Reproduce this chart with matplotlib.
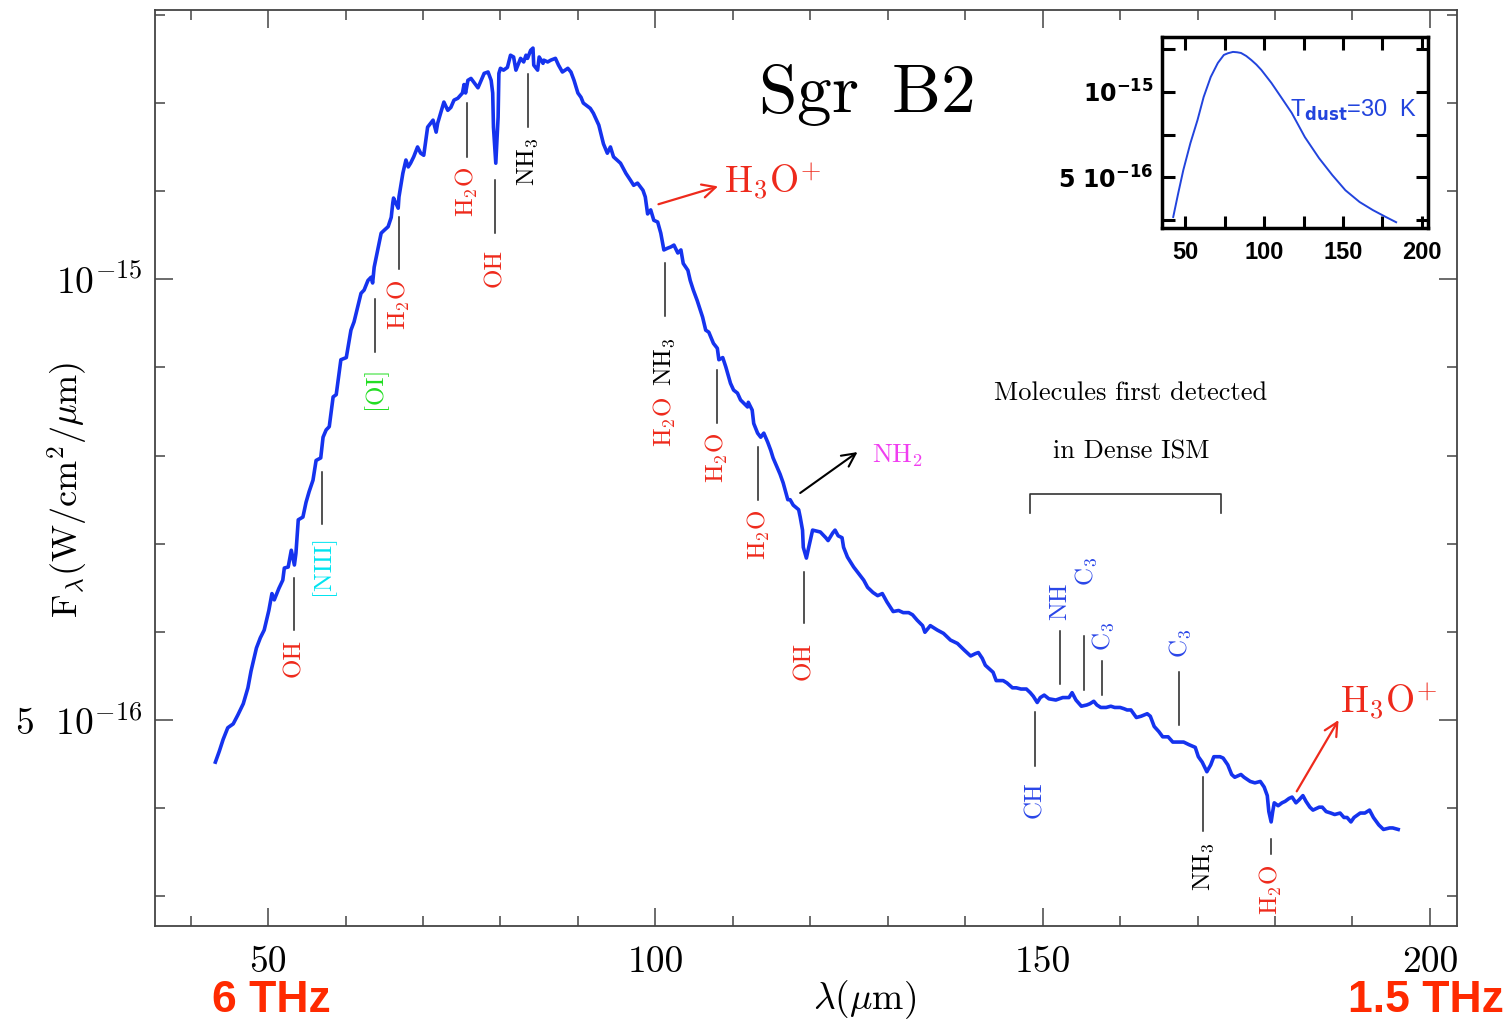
import numpy as np
import matplotlib
matplotlib.use('Agg')
import matplotlib.pyplot as plt
from matplotlib.ticker import FixedLocator, FixedFormatter, NullFormatter

plt.rcParams['font.family'] = 'cmr10'
plt.rcParams['mathtext.fontset'] = 'cm'
plt.rcParams['axes.unicode_minus'] = False

# Sgr B2 far-IR spectrum, wavelength (um) and flux (1e-16 W/cm2/um)
wave = [43.2, 43.7, 44.2, 44.8, 45.5, 46.1, 46.8, 47.4, 47.8, 48.5,
        49.0, 49.5, 50.1, 50.5, 50.8, 51.4, 51.9, 52.1, 52.6, 53.0,
        53.4, 53.6, 53.9, 54.5, 54.9, 55.3, 55.8, 56.2, 56.8, 57.1,
        57.5, 57.9, 58.4, 58.8, 59.4, 60.1, 60.7, 61.1, 62.0, 62.4,
        62.9, 63.3, 63.5, 63.7, 64.6, 65.0, 65.5, 65.9, 66.1, 66.2,
        66.8, 66.9, 67.4, 67.8, 68.1, 68.4, 68.8, 69.3, 69.7, 70.1,
        70.6, 71.3, 71.7, 71.9, 72.7, 73.2, 73.6, 74.0, 74.5, 75.1,
        75.3, 75.5, 75.8, 76.2, 76.6, 77.1, 77.9, 78.4, 78.8, 79.0,
        79.1, 79.4, 79.7, 79.8, 80.0, 80.4, 80.9, 81.3, 81.7, 82.0,
        82.6, 83.0, 83.3, 83.5, 83.9, 84.2, 84.3, 84.8, 85.0, 85.5,
        85.6, 86.1, 86.5, 87.1, 87.5, 88.0, 88.7, 89.1, 89.5, 90.0,
        90.4, 90.7, 91.6, 92.0, 92.7, 93.3, 93.8, 94.2, 94.6, 95.5,
        96.2, 96.8, 97.2, 97.7, 98.4, 98.7, 99.0, 99.4, 99.8, 100.3,
        100.7, 101.1, 101.6, 102.0, 102.4, 102.9, 103.3, 103.6, 104.2, 104.5,
        104.9, 105.4, 106.1, 106.5, 106.9, 107.5, 108.0, 108.2, 108.7, 109.1,
        109.7, 110.1, 110.6, 111.0, 111.4, 111.9, 112.0, 112.5, 112.7, 113.2,
        113.6, 114.0, 114.5, 114.9, 115.2, 116.1, 116.5, 117.1, 117.4, 117.8,
        118.5, 118.7, 119.0, 119.1, 119.5, 119.8, 120.3, 121.3, 122.0, 122.3,
        122.9, 123.2, 123.6, 124.1, 124.3, 124.8, 125.6, 126.2, 126.9, 127.4,
        128.1, 128.7, 129.3, 129.9, 130.7, 131.4, 132.0, 132.7, 133.2, 133.8,
        134.5, 134.8, 135.5, 136.4, 137.2, 138.1, 139.0, 139.9, 140.7, 141.3,
        141.7, 142.2, 142.6, 143.6, 144.0, 144.9, 145.4, 146.1, 146.6, 147.2,
        147.9, 148.4, 148.8, 149.3, 149.7, 150.2, 150.8, 151.7, 152.6, 153.4,
        153.8, 154.3, 155.0, 155.7, 156.1, 156.6, 157.0, 157.5, 158.2, 158.8,
        159.3, 160.0, 160.5, 160.9, 161.4, 162.1, 162.7, 163.5, 163.9, 164.4,
        165.0, 165.5, 166.2, 166.8, 167.6, 168.2, 168.9, 169.7, 170.1, 170.6,
        171.2, 171.7, 172.1, 172.9, 173.3, 173.9, 174.4, 174.8, 175.6, 176.0,
        176.8, 177.4, 178.1, 178.6, 179.0, 179.2, 179.5, 179.7, 179.9, 180.4,
        180.9, 181.3, 181.8, 182.2, 182.7, 183.1, 183.6, 184.0, 184.5, 184.9,
        185.7, 186.1, 186.6, 187.2, 187.7, 188.4, 188.9, 189.3, 189.8, 190.2,
        191.0, 191.6, 192.2, 192.7, 193.4, 194.0, 194.8, 195.2, 195.9]
flux = [4.68, 4.76, 4.85, 4.94, 4.97, 5.04, 5.13, 5.26, 5.40, 5.60,
        5.69, 5.76, 5.94, 6.10, 6.04, 6.15, 6.23, 6.35, 6.36, 6.53,
        6.38, 6.50, 6.85, 6.88, 7.04, 7.16, 7.29, 7.52, 7.55, 7.80,
        7.89, 7.93, 8.31, 8.34, 8.81, 8.84, 9.23, 9.35, 9.78, 9.83,
        9.98, 10.03, 9.94, 10.19, 10.75, 10.80, 10.86, 11.02, 11.27, 11.36,
        11.18, 11.38, 11.81, 12.06, 11.93, 12.00, 12.12, 12.31, 12.19, 12.15,
        12.70, 12.84, 12.60, 12.78, 13.21, 13.04, 13.10, 13.25, 13.29, 13.40,
        13.58, 13.40, 13.67, 13.71, 13.62, 13.51, 13.82, 13.85, 13.67, 13.40,
        12.70, 12.00, 12.90, 13.82, 13.93, 13.89, 13.95, 14.22, 14.18, 13.89,
        14.15, 14.07, 14.22, 14.15, 14.33, 14.38, 14.00, 13.89, 14.18, 14.04,
        14.11, 14.07, 14.11, 14.15, 14.00, 13.85, 13.93, 13.85, 13.67, 13.40,
        13.31, 13.19, 13.08, 12.98, 12.74, 12.37, 12.19, 12.31, 12.12, 12.00,
        11.81, 11.68, 11.59, 11.63, 11.50, 11.38, 11.08, 11.15, 10.97, 10.94,
        10.75, 10.47, 10.50, 10.52, 10.55, 10.42, 10.47, 10.25, 10.14, 9.98,
        9.83, 9.67, 9.42, 9.23, 9.20, 9.04, 8.97, 8.81, 8.84, 8.71,
        8.49, 8.40, 8.36, 8.27, 8.23, 8.18, 8.24, 8.14, 7.97, 7.85,
        7.80, 7.85, 7.74, 7.64, 7.55, 7.36, 7.26, 7.07, 7.07, 7.01,
        6.96, 6.88, 6.74, 6.56, 6.45, 6.56, 6.74, 6.72, 6.66, 6.63,
        6.71, 6.74, 6.68, 6.66, 6.56, 6.46, 6.36, 6.30, 6.23, 6.16,
        6.11, 6.08, 6.10, 6.02, 5.93, 5.94, 5.92, 5.92, 5.90, 5.85,
        5.80, 5.74, 5.80, 5.76, 5.73, 5.67, 5.64, 5.58, 5.53, 5.55,
        5.56, 5.51, 5.45, 5.39, 5.32, 5.32, 5.30, 5.26, 5.26, 5.25,
        5.25, 5.22, 5.19, 5.14, 5.18, 5.20, 5.17, 5.16, 5.18, 5.18,
        5.22, 5.16, 5.11, 5.12, 5.13, 5.15, 5.12, 5.10, 5.10, 5.11,
        5.10, 5.10, 5.09, 5.08, 5.08, 5.02, 5.03, 5.05, 5.03, 4.95,
        4.91, 4.87, 4.87, 4.83, 4.83, 4.83, 4.81, 4.79, 4.72, 4.68,
        4.61, 4.66, 4.72, 4.72, 4.71, 4.66, 4.59, 4.57, 4.59, 4.57,
        4.54, 4.53, 4.54, 4.50, 4.44, 4.33, 4.26, 4.33, 4.39, 4.37,
        4.39, 4.40, 4.42, 4.43, 4.39, 4.41, 4.44, 4.40, 4.36, 4.34,
        4.36, 4.36, 4.33, 4.32, 4.31, 4.32, 4.29, 4.29, 4.26, 4.29,
        4.32, 4.32, 4.34, 4.29, 4.24, 4.21, 4.22, 4.22, 4.21]

# inset: dust emission, T_dust = 30 K
bb_wave = [42.3, 45.5, 48.7, 53.2, 57.7, 61.6, 66.1, 70.6, 74.4, 77.0, 80.2, 82.8, 85.3,
           88.6, 91.8, 95.0, 98.2, 104.6, 111.1, 117.5, 125.8, 134.8, 143.2, 151.5,
           160.5, 168.9, 177.2, 183.7]
bb_flux = [3.62, 4.40, 5.30, 6.60, 7.96, 9.60, 11.30, 12.66, 13.51, 13.70, 13.85, 13.81, 13.73,
           13.40, 12.97, 12.50, 11.96, 10.76, 9.52, 8.43, 6.93, 5.84, 5.09, 4.50,
           4.09, 3.83, 3.62, 3.47]

RED = '#ee2a1c'
BLACK = 'black'
CYAN = '#00e4f0'
GREEN = '#22dd22'
BLUE = '#2a46e8'
MAGENTA = '#f03ef0'

# line markers: wavelength, top and bottom of the tick (1e-16 units)
mark_wave = [53.35, 57.0, 63.8, 66.9, 75.7, 79.3, 83.5, 101.2, 108.0, 113.3, 119.2,
             149.0, 152.3, 155.4, 157.7, 167.6, 170.7, 179.5]
mark_top = [6.25, 7.39, 9.69, 11.02, 13.19, 11.68, 13.80, 10.25, 8.67, 7.68, 6.31,
            5.06, 5.75, 5.71, 5.49, 5.39, 4.57, 4.15]
mark_bot = [5.76, 6.80, 8.92, 10.16, 12.12, 10.75, 12.70, 9.44, 7.97, 7.07, 5.82,
            4.65, 5.29, 5.24, 5.20, 4.96, 4.20, 4.05]

# species labels
H2O = r'$\mathrm{H_2O}$'
NH3 = r'$\mathrm{NH_3}$'
C3 = r'$\mathrm{C_3}$'
id_text = ['OH', '[NIII]', '[OI]', H2O, H2O, 'OH', NH3, NH3, H2O, H2O, H2O, 'OH',
           'CH', 'NH', C3, C3, C3, NH3, H2O]
id_wave = [53.35, 57.0, 63.8, 66.9, 75.7, 79.3, 83.5, 101.2, 101.2, 108.0, 113.3, 119.2,
           149.0, 152.3, 155.6, 157.8, 167.8, 170.8, 179.5]
id_flux = [5.51, 6.38, 8.43, 9.60, 11.47, 10.17, 12.02, 8.78, 7.99, 7.55, 6.69, 5.49,
           4.41, 6.03, 6.32, 5.70, 5.64, 3.97, 3.83]
id_color = [RED, CYAN, GREEN, RED, RED, RED, BLACK, BLACK, RED, RED, RED, RED,
            BLUE, BLUE, BLUE, BLUE, BLUE, BLACK, RED]

H3OP = r'$\mathrm{H_3O}^{\!+}$'

fig = plt.figure(figsize=(15.06, 10.23), dpi=100)
ax = fig.add_axes([0.1029, 0.0948, 0.8646, 0.8954])

ax.plot(wave, np.array(flux) * 1e-16, color='#1533ee', lw=2.6, solid_joinstyle='round')
ax.set_yscale('log')
ax.set_xlim(35.4, 203.5)
ax.set_ylim(3.617e-16, 1.5267e-15)

ax.xaxis.set_major_locator(FixedLocator([50, 100, 150, 200]))
ax.xaxis.set_minor_locator(FixedLocator(np.arange(40, 201, 10)))
ax.xaxis.set_major_formatter(FixedFormatter(['50', '100', '150', '200']))
ax.yaxis.set_major_locator(FixedLocator([5e-16, 1e-15]))
ax.yaxis.set_major_formatter(FixedFormatter([r'$5\ \ 10^{-16}$', r'$10^{-15}$']))
ax.yaxis.set_minor_locator(FixedLocator([1e-15 * 2 ** (k / 5) for k in range(-7, 4)]))
ax.yaxis.set_minor_formatter(NullFormatter())
ax.tick_params(which='both', direction='in', top=True, right=True, width=1.1, color='#444444')
ax.tick_params(which='major', length=13)
ax.tick_params(which='minor', length=7)
ax.tick_params(axis='x', labelsize=27, pad=14)
ax.tick_params(axis='y', labelsize=27, pad=9)
for s in ax.spines.values():
    s.set_linewidth(1.3)
    s.set_color('#444444')

for x, hi, lo in zip(mark_wave, mark_top, mark_bot):
    ax.plot([x, x], [lo * 1e-16, hi * 1e-16], color='#222222', lw=1.1)
for t, x, y, c in zip(id_text, id_wave, id_flux, id_color):
    ax.text(x, y * 1e-16, t, color=c, fontsize=18, rotation=90, ha='center', va='center')

# arrows to H3O+ and NH2 features
ax.annotate('', xy=(108.1, 11.57e-16), xytext=(100.4, 11.25e-16),
            arrowprops=dict(arrowstyle='->', color=RED, lw=1.6, mutation_scale=24,
                            shrinkA=0, shrinkB=0))
ax.text(108.8, 11.45e-16, H3OP, color=RED, fontsize=27, va='baseline')
ax.annotate('', xy=(188.2, 5.00e-16), xytext=(182.8, 4.47e-16),
            arrowprops=dict(arrowstyle='->', color=RED, lw=1.6, mutation_scale=24,
                            shrinkA=0, shrinkB=0))
ax.text(188.4, 5.056e-16, H3OP, color=RED, fontsize=27, va='baseline')
ax.annotate('', xy=(126.1, 7.62e-16), xytext=(118.7, 7.145e-16),
            arrowprops=dict(arrowstyle='->', color='black', lw=1.5, mutation_scale=24,
                            shrinkA=0, shrinkB=0))
ax.text(128.0, 7.50e-16, r'$\mathrm{NH_2}$', color=MAGENTA, fontsize=19, va='baseline')

# bracket for new molecules
ax.plot([148.4, 148.4, 173.0, 173.0], [6.92e-16, 7.135e-16, 7.135e-16, 6.92e-16],
        color='#333333', lw=1.2)
ax.text(0.7496, 0.582, 'Molecules first detected', transform=ax.transAxes,
        fontsize=19, ha='center', va='center')
ax.text(0.7496, 0.5175, 'in Dense ISM', transform=ax.transAxes,
        fontsize=19, ha='center', va='center')

ax.text(0.546, 0.907, r'Sgr $\,$B2', transform=ax.transAxes, fontsize=50,
        ha='center', va='center')

fig.text(68 / 1506, 1 - 490 / 1023, r'F$_\lambda$(W/cm$^2$/$\mu$m)', rotation=90,
         fontsize=26, ha='center', va='center')
fig.text(865 / 1506, 1 - 1000 / 1023, r'$\lambda$($\mu$m)', fontsize=27,
         ha='center', va='center')
fig.text(271 / 1506, 1 - 1000 / 1023, '6 THz', color='#ff2a00', fontsize=32,
         family='Liberation Sans', weight='bold', ha='center', va='center')
fig.text(1426 / 1506, 1 - 1000 / 1023, '1.5 THz', color='#ff2a00', fontsize=32,
         family='Liberation Sans', weight='bold', ha='center', va='center')

# inset
axin = fig.add_axes([0.7716, 0.7771, 0.1766, 0.1867])
axin.plot(bb_wave, np.array(bb_flux) * 1e-16, color='#2244dd', lw=1.4, solid_joinstyle='round')
axin.set_yscale('log')
axin.set_xlim(35.2, 203.9)
axin.set_ylim(3.31e-16, 1.563e-15)
axin.xaxis.set_major_locator(FixedLocator([50, 100, 150, 200]))
axin.xaxis.set_minor_locator(FixedLocator([75, 125, 175]))
axin.xaxis.set_major_formatter(FixedFormatter(['50', '100', '150', '200']))
axin.yaxis.set_major_locator(FixedLocator([5e-16, 1e-15]))
axin.yaxis.set_major_formatter(FixedFormatter([r'$\mathbf{5\ 10^{-16}}$', r'$\mathbf{10^{-15}}$']))
axin.yaxis.set_minor_locator(FixedLocator([3.54e-16, 7.07e-16, 1.414e-15]))
axin.yaxis.set_minor_formatter(NullFormatter())
axin.tick_params(which='both', direction='in', top=True, right=True, length=9, width=2.2)
axin.tick_params(axis='x', pad=9)
axin.tick_params(axis='y', pad=6)
for lab in axin.get_xticklabels() + axin.get_yticklabels():
    lab.set_family('Liberation Sans')
    lab.set_weight('bold')
    lab.set_fontsize(17)
    lab.set_math_fontfamily('dejavusans')
for s in axin.spines.values():
    s.set_linewidth(2.5)
axin.text(0.481, 0.581, r'T$_{\mathbf{dust}}$=30  K', transform=axin.transAxes,
          color='#2244dd', fontsize=17, family='Liberation Sans', va='baseline',
          math_fontfamily='dejavusans')

fig.savefig('out.png', dpi=100)
